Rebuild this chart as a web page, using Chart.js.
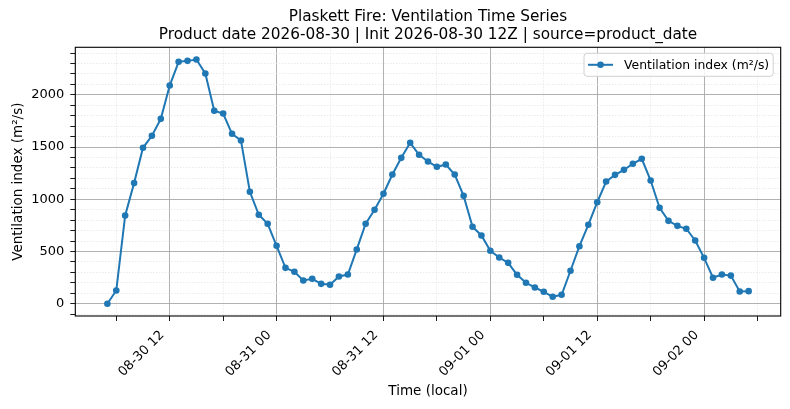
<!DOCTYPE html>
<html>
<head>
<meta charset="utf-8">
<script src="https://cdn.jsdelivr.net/npm/chart.js@4.4.1/dist/chart.umd.min.js"></script>
<style>
  html, body { margin: 0; padding: 0; background: #fff; }
  #wrap { width: 790px; height: 409px; }
</style>
</head>
<body>
<div id="wrap"><canvas id="ventChart" width="790" height="409"></canvas></div>
<script>
// hourly values, first sample 08-30 05:00 local
const FIRST_HOUR = 5; // hours after 08-30 00:00
const ventilation = [
  0, 127, 845, 1155, 1493, 1608, 1770, 2089, 2316, 2325, 2338, 2204,
  1847, 1821, 1627, 1563, 1072, 852, 766, 555, 344, 306, 223, 239,
  191, 182, 261, 280, 520, 766, 900, 1053, 1237, 1397, 1541, 1426,
  1362, 1311, 1333, 1237, 1033, 737, 654, 507, 443, 392, 278, 201,
  156, 115, 67, 86, 316, 551, 756, 972, 1170, 1234, 1282, 1340,
  1388, 1180, 919, 794, 746, 718, 606, 440, 249, 280, 270, 118, 121
];

// x ticks: hours after 08-30 00:00, labelled ones every 12 h
const xTickHours = [6, 12, 18, 24, 30, 36, 42, 48, 54, 60, 66, 72, 78];
const xMajorHours = [12, 24, 36, 48, 60, 72];
const xMajorLabels = ['08-30 12', '08-31 00', '08-31 12', '09-01 00', '09-01 12', '09-02 00'];

const yTicks = [-100, 0, 100, 200, 300, 400, 500, 600, 700, 800, 900, 1000, 1100, 1200,
  1300, 1400, 1500, 1600, 1700, 1800, 1900, 2000, 2100, 2200, 2300, 2400];
const yMajorTicks = [0, 500, 1000, 1500, 2000];

const titleLines = [
  'Plaskett Fire: Ventilation Time Series',
  'Product date 2026-08-30 | Init 2026-08-30 12Z | source=product_date'
];
const seriesLabel = 'Ventilation index (m\u00b2/s)';

const FONT = 'DejaVu Sans';
const LINE_COLOR = '#1f77b4';

const points = ventilation.map((v, i) => ({ x: FIRST_HOUR + i, y: v }));

const xMin = FIRST_HOUR - (ventilation.length - 1) * 0.05;
const xMax = FIRST_HOUR + (ventilation.length - 1) * 1.05;
const yMax = Math.max(...ventilation);
const yLo = -yMax * 0.05;
const yHi = yMax * 1.05;

const isXMajor = v => xMajorHours.includes(v);
const isYMajor = v => yMajorTicks.includes(v);

// full box round the plot area, like matplotlib spines
const frame = {
  id: 'frame',
  afterDraw(chart) {
    const { ctx, chartArea: a } = chart;
    ctx.save();
    ctx.strokeStyle = '#000';
    ctx.lineWidth = 1.1;
    ctx.strokeRect(a.left, a.top, a.right - a.left, a.bottom - a.top);
    ctx.restore();
  }
};

// legend inside the axes, upper right
const innerLegend = {
  id: 'innerLegend',
  afterDraw(chart) {
    const { ctx, chartArea: a } = chart;
    const ds = chart.data.datasets[0];
    ctx.save();
    ctx.font = '12.4px "' + FONT + '"';
    const tw = ctx.measureText(ds.label).width;
    const w = tw + 44, h = 23;
    const x = a.right - 7.5 - w, y = a.top + 6;
    ctx.beginPath();
    ctx.roundRect(x, y, w, h, 3);
    ctx.fillStyle = 'rgba(255,255,255,0.85)';
    ctx.fill();
    ctx.strokeStyle = '#d0d0d0';
    ctx.lineWidth = 1;
    ctx.stroke();
    const cy = y + h / 2;
    ctx.beginPath();
    ctx.moveTo(x + 4, cy);
    ctx.lineTo(x + 29, cy);
    ctx.strokeStyle = ds.borderColor;
    ctx.lineWidth = 2;
    ctx.stroke();
    ctx.beginPath();
    ctx.arc(x + 16.5, cy, 3.3, 0, Math.PI * 2);
    ctx.fillStyle = ds.borderColor;
    ctx.fill();
    ctx.fillStyle = '#000';
    ctx.textBaseline = 'middle';
    ctx.textAlign = 'left';
    ctx.fillText(ds.label, x + 40, cy + 0.5);
    ctx.restore();
  }
};

const canvas = document.getElementById('ventChart');
new Chart(canvas, {
  type: 'line',
  data: {
    datasets: [{
      label: seriesLabel,
      data: points,
      borderColor: LINE_COLOR,
      backgroundColor: LINE_COLOR,
      borderWidth: 2,
      pointRadius: 3.3,
      pointBorderWidth: 0,
      pointBackgroundColor: LINE_COLOR,
      tension: 0,
      fill: false,
    }]
  },
  options: {
    responsive: false,
    animation: false,
    events: [],
    layout: { padding: { left: 0, right: 9.3, top: 0, bottom: 0 } },
    plugins: {
      legend: { display: false },
      tooltip: { enabled: false },
      title: {
        display: true,
        fullSize: false,
        text: titleLines,
        color: '#000',
        font: { family: FONT, size: 15.3, weight: 'normal', lineHeight: 1.16 },
        padding: { top: 8.4, bottom: 3.4 },
      },
    },
    scales: {
      x: {
        type: 'linear',
        min: xMin,
        max: xMax,
        afterBuildTicks: s => { s.ticks = xTickHours.map(v => ({ value: v })); },
        afterFit: s => { s.height = 93; },
        ticks: {
          autoSkip: false,
          minRotation: 45,
          maxRotation: 45,
          padding: 6.6,
          labelOffset: -7.5,
          color: '#000',
          font: { family: FONT, size: 13 },
          callback: v => {
            const i = xMajorHours.indexOf(v);
            return i >= 0 ? xMajorLabels[i] : '';
          },
        },
        grid: {
          color: c => isXMajor(c.tick && c.tick.value) ? '#a8a8a8' : '#e4e4e4',
          lineWidth: c => isXMajor(c.tick && c.tick.value) ? 0.9 : 0.7,
          tickColor: '#000',
          tickWidth: 0.9,
          tickLength: 5,
        },
        border: {
          display: false,
          dash: c => (c.tick && !isXMajor(c.tick.value)) ? [1.5, 1.5] : [],
        },
        title: {
          display: true,
          text: 'Time (local)',
          color: '#000',
          font: { family: FONT, size: 13.5 },
          padding: { top: 0, bottom: 9.6 },
        },
      },
      y: {
        type: 'linear',
        min: yLo,
        max: yHi,
        afterBuildTicks: s => { s.ticks = yTicks.map(v => ({ value: v })); },
        afterFit: s => { s.width = 75.3; },
        ticks: {
          autoSkip: false,
          padding: 6,
          color: '#000',
          font: { family: FONT, size: 13 },
          callback: v => isYMajor(v) ? String(v) : '',
        },
        grid: {
          color: c => isYMajor(c.tick && c.tick.value) ? '#a8a8a8' : '#e4e4e4',
          lineWidth: c => isYMajor(c.tick && c.tick.value) ? 0.9 : 0.7,
          tickColor: '#000',
          tickWidth: 0.9,
          tickLength: 5,
        },
        border: {
          display: false,
          dash: c => (c.tick && !isYMajor(c.tick.value)) ? [1.5, 1.5] : [],
        },
        title: {
          display: true,
          text: seriesLabel,
          color: '#000',
          font: { family: FONT, size: 13.5 },
          padding: { top: 10.6, bottom: 0 },
        },
      },
    },
  },
  plugins: [frame, innerLegend],
});
</script>
</body>
</html>
